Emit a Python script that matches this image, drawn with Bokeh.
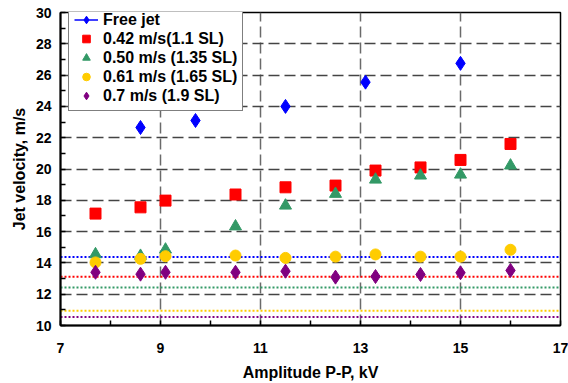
import math
from bokeh.plotting import figure
from bokeh.models import FixedTicker, Legend, LegendItem, Range1d
from bokeh.embed import file_html
from bokeh.resources import INLINE

# Data
free_x = [8.6, 9.7, 11.5, 13.1, 15.0]
free_y = [22.65, 23.1, 24.0, 25.55, 26.75]

x_all = [7.7, 8.6, 9.1, 10.5, 11.5, 12.5, 13.3, 14.2, 15.0, 16.0]
s042_y = [17.15, 17.55, 17.98, 18.37, 18.83, 18.94, 19.9, 20.1, 20.58, 21.6]
s050_y = [14.55, 14.45, 14.85, 16.33, 17.66, 18.41, 19.32, 19.58, 19.64, 20.22]
s061_y = [14.03, 14.26, 14.43, 14.47, 14.32, 14.4, 14.54, 14.4, 14.4, 14.84]
s070_y = [13.4, 13.28, 13.4, 13.4, 13.47, 13.09, 13.13, 13.26, 13.37, 13.52]

# Reference (dotted) levels
ref_levels = [14.37, 13.11, 12.43, 10.94, 10.54]

labels = ["Free jet", "0.42 m/s(1.1 SL)", "0.50 m/s (1.35 SL)",
          "0.61 m/s (1.65 SL)", "0.7 m/s (1.9 SL)"]
colors = ["#0000FF", "#FF0000", "#339966", "#FFCC00", "#800080"]

x_ticks = [7, 9, 11, 13, 15, 17]
x_minor = [8, 10, 12, 14, 16]
y_ticks = [10, 12, 14, 16, 18, 20, 22, 24, 26, 28, 30]
y_minor = [11, 13, 15, 17, 19, 21, 23, 25, 27, 29]

FONT = "Liberation Sans"

p = figure(width=568, height=383, output_backend="svg", toolbar_location=None,
           x_range=Range1d(7, 17), y_range=Range1d(10, 30),
           min_border_left=60, min_border_right=8, min_border_top=12,
           min_border_bottom=58)
p.background_fill_color = "white"
p.border_fill_color = "white"
p.outline_line_color = "black"
p.outline_line_width = 1.5
p.outline_line_alpha = 1.0

for ax, ticks, minor in ((p.xaxis[0], x_ticks, x_minor), (p.yaxis[0], y_ticks, y_minor)):
    ax.ticker = FixedTicker(ticks=ticks, minor_ticks=minor)
    ax.major_tick_in = 5
    ax.major_tick_out = 0
    ax.minor_tick_in = 5
    ax.minor_tick_out = 0
    ax.axis_line_width = 2
    ax.major_tick_line_width = 1.5
    ax.minor_tick_line_width = 1.5
    ax.major_label_text_font = FONT
    ax.major_label_text_font_style = "bold"
    ax.major_label_text_font_size = "14px"
    ax.major_label_text_color = "black"
    ax.axis_label_text_font = FONT
    ax.axis_label_text_font_style = "bold"
    ax.axis_label_text_font_size = "16px"
    ax.axis_label_text_color = "black"

p.xaxis.axis_label = "Amplitude P-P, kV"
p.yaxis.axis_label = "Jet velocity, m/s"
p.xaxis.major_label_standoff = 17
p.xaxis.axis_label_standoff = 8
p.yaxis.major_label_standoff = 9
p.yaxis.axis_label_standoff = 5

for g in (p.xgrid[0], p.ygrid[0]):
    g.grid_line_width = 1.5
    g.grid_line_dash = "11 5"
p.xgrid.grid_line_color = "#6a6a6a"
p.ygrid.grid_line_color = "#444444"

# dotted reference lines
for lvl, c in zip(ref_levels, colors):
    p.line([7, 17], [lvl, lvl], line_color=c, line_width=2, line_dash="2 2")

r_free = p.scatter(free_x, free_y, marker="diamond", size=14, color=colors[0])
r_free_line = p.line([math.nan], [math.nan], line_color=colors[0], line_width=1.5)
r1 = p.scatter(x_all, s042_y, marker="square", size=11, color=colors[1])
r2 = p.scatter(x_all, s050_y, marker="triangle", size=12, color=colors[2])
r3 = p.scatter(x_all, s061_y, marker="circle", size=11, color=colors[3])
r4 = p.scatter(x_all, s070_y, marker="diamond", size=14, color=colors[4])

items = [LegendItem(label=labels[0], renderers=[r_free_line, r_free]),
         LegendItem(label=labels[1], renderers=[r1]),
         LegendItem(label=labels[2], renderers=[r2]),
         LegendItem(label=labels[3], renderers=[r3]),
         LegendItem(label=labels[4], renderers=[r4])]
legend = Legend(items=items, location=(8, 214))
legend.label_text_font = FONT
legend.label_text_font_style = "bold"
legend.label_text_font_size = "16px"
legend.label_text_color = "black"
legend.label_height = 17
legend.glyph_height = 19
legend.glyph_width = 24
legend.spacing = -2
legend.padding = 5
legend.label_standoff = 5
legend.border_line_color = "black"
legend.border_line_width = 1.5
legend.background_fill_alpha = 1.0
legend.margin = 0
p.add_layout(legend, "center")

open("out.html", "w").write(file_html(p, INLINE))
